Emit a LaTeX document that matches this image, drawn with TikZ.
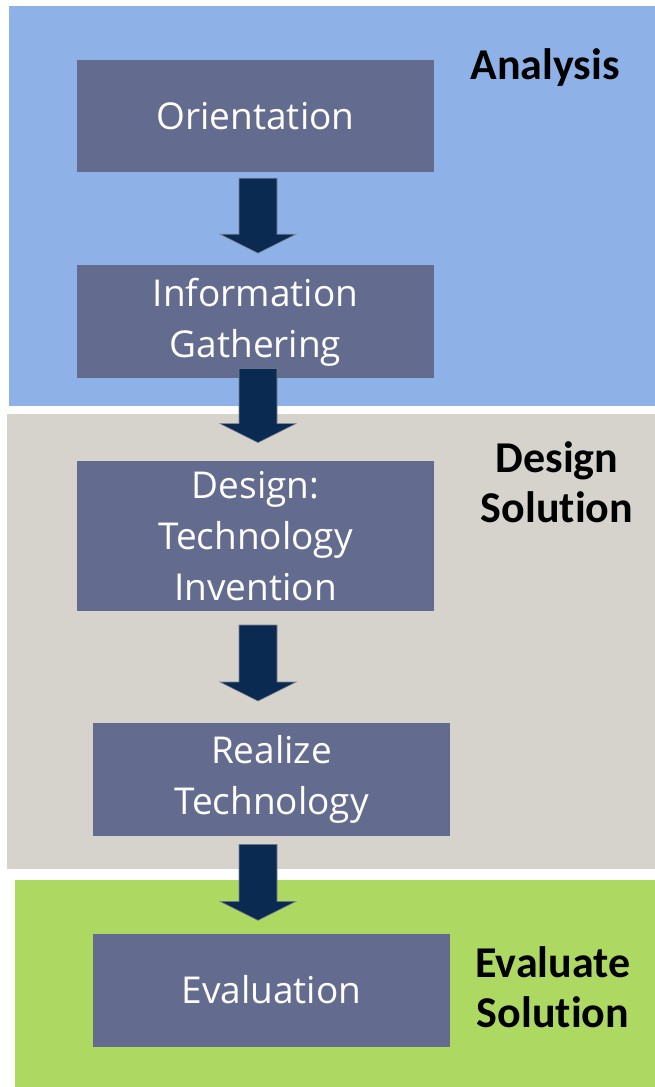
\documentclass[tikz,border=0pt]{standalone}
\usepackage{fontspec}
\setmainfont{Open Sans}
\newfontfamily\headfont{Carlito}[Ligatures=NoCommon]
\usetikzlibrary{positioning,calc}
\definecolor{analysisblue}{HTML}{8EB2E7}
\definecolor{designgray}{HTML}{D5D3CC}
\definecolor{evalgreen}{HTML}{ADD963}
\definecolor{stepfill}{HTML}{636B8E}
\definecolor{arrownavy}{HTML}{0B2A52}
\definecolor{arrowedge}{HTML}{7A8290}

% block arrow: start node anchor, drop, end node anchor, gap
\newcommand\flowarrow[4]{%
  \coordinate (fa top) at ($(#1)+(0,#2)$);
  \coordinate (fa tip) at ($(#3)+(0,-#4)$);
  \filldraw[flow] ($(fa top)+(-19,0)$) -- ($(fa tip)+(-19,-19)$) -- ($(fa tip)+(-38,-19)$) -- (fa tip)
    -- ($(fa tip)+(38,-19)$) -- ($(fa tip)+(19,-19)$) -- ($(fa top)+(19,0)$) -- cycle;
}

\begin{document}
\begin{tikzpicture}[x=1pt,y=-1pt,
  stepbox/.style={fill=stepfill,text=white,inner sep=0pt,minimum width=357pt,align=center,font=\fontsize{37}{51}\selectfont},
  phase/.style={align=center,font=\headfont\bfseries\fontsize{44}{50}\selectfont},
  flow/.style={fill=arrownavy,draw=arrowedge,line width=0.6pt}]
  \useasboundingbox[fill=white] (0,0) rectangle (655,1087);
  % phase panels
  \fill[analysisblue] (9,6) rectangle (655,406);
  \fill[designgray] (7,414) rectangle (655,869);
  \fill[evalgreen] (15,880) rectangle (655,1087);
  \node[phase] (analysis) at (545,68) {Analysis};
  \node[phase] (design label) at (557,482) {Design\\Solution};
  \node[phase] (eval label) at (553,987) {Evaluate\\Solution};
  % steps
  \coordinate (axis) at (258,0);
  \node[stepbox,minimum height=112pt] (orient) at (255.5,116) {Orientation};
  \node[stepbox,minimum height=113pt] (info) [below=93pt of orient] {Information\\Gathering};
  \node[stepbox,minimum height=150pt] (design) [below=82pt of info] {Design:\\Technology\\Invention};
  \node[stepbox,minimum height=113pt] (realize) [below=112pt of design,xshift=16pt] {Realize\\Technology};
  \node[stepbox,minimum height=113pt] (eval) [below=97pt of realize] {Evaluation};
  \flowarrow{orient.south -| axis}{6}{info.north -| axis}{12}
  \flowarrow{info.south -| axis}{-10}{design.north -| axis}{18}
  \flowarrow{design.south -| axis}{14}{realize.north -| axis}{22}
  \flowarrow{realize.south -| axis}{8}{eval.north -| axis}{13}
\end{tikzpicture}
\end{document}
